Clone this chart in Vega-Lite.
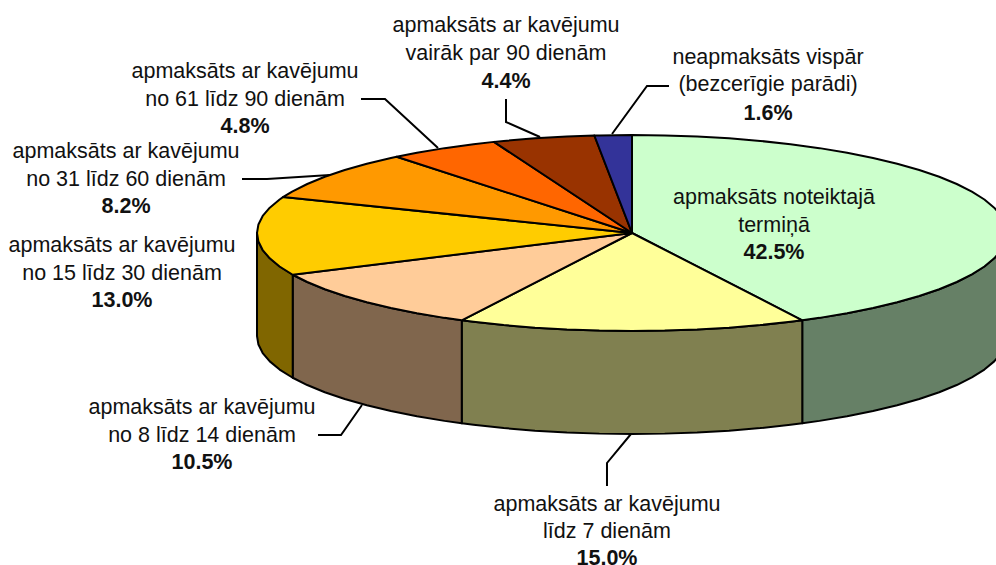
{
"$schema":"https://vega.github.io/schema/vega-lite/v6.json",
"width":996,"height":565,"padding":0,"autosize":{"type":"none"},"background":"white",
"config":{"view":{"stroke":null}},
"projection":{"type":"identity","scale":375,"translate":[632,233],"reflectY":true},
"datasets":{
"walls":[
{"type":"Feature","properties":{"name":"apmaksāts noteiktajā termiņā","share":42.5},"geometry":{"type":"Polygon","coordinates":[[[1,0],[0.9962,-0.0228],[0.9848,-0.0454],[0.9659,-0.0676],[0.9397,-0.0894],[0.9063,-0.1104],[0.866,-0.1307],[0.8192,-0.1499],[0.766,-0.168],[0.7071,-0.1848],[0.6428,-0.2002],[0.5736,-0.2141],[0.5,-0.2263],[0.454,-0.2328],[0.454,-0.5075],[0.5,-0.501],[0.5736,-0.4888],[0.6428,-0.4749],[0.7071,-0.4595],[0.766,-0.4427],[0.8192,-0.4246],[0.866,-0.4054],[0.9063,-0.3851],[0.9397,-0.3641],[0.9659,-0.3423],[0.9848,-0.3201],[0.9962,-0.2975],[1,-0.2747],[1,0]]]}},
{"type":"Feature","properties":{"name":"līdz 7 dienām","share":15.0},"geometry":{"type":"Polygon","coordinates":[[[0.454,-0.2328],[0.4226,-0.2368],[0.342,-0.2455],[0.2588,-0.2524],[0.1736,-0.2573],[0.0872,-0.2603],[0,-0.2613],[-0.0872,-0.2603],[-0.1736,-0.2573],[-0.2588,-0.2524],[-0.342,-0.2455],[-0.4226,-0.2368],[-0.454,-0.2328],[-0.454,-0.5075],[-0.4226,-0.5115],[-0.342,-0.5202],[-0.2588,-0.5271],[-0.1736,-0.532],[-0.0872,-0.535],[0,-0.536],[0.0872,-0.535],[0.1736,-0.532],[0.2588,-0.5271],[0.342,-0.5202],[0.4226,-0.5115],[0.454,-0.5075],[0.454,-0.2328]]]}},
{"type":"Feature","properties":{"name":"no 8 līdz 14 dienām","share":10.5},"geometry":{"type":"Polygon","coordinates":[[[-0.454,-0.2328],[-0.5,-0.2263],[-0.5736,-0.2141],[-0.6428,-0.2002],[-0.7071,-0.1848],[-0.766,-0.168],[-0.8192,-0.1499],[-0.866,-0.1307],[-0.9048,-0.1113],[-0.9048,-0.386],[-0.866,-0.4054],[-0.8192,-0.4246],[-0.766,-0.4427],[-0.7071,-0.4595],[-0.6428,-0.4749],[-0.5736,-0.4888],[-0.5,-0.501],[-0.454,-0.5075],[-0.454,-0.2328]]]}},
{"type":"Feature","properties":{"name":"no 15 līdz 30 dienām","share":13.0},"geometry":{"type":"Polygon","coordinates":[[[-0.9048,-0.1113],[-0.9397,-0.0894],[-0.9659,-0.0676],[-0.9848,-0.0454],[-0.9962,-0.0228],[-1,0],[-1,-0.2747],[-0.9962,-0.2975],[-0.9848,-0.3201],[-0.9659,-0.3423],[-0.9397,-0.3641],[-0.9048,-0.386],[-0.9048,-0.1113]]]}}
],
"tops":[
{"type":"Feature","properties":{"name":"apmaksāts noteiktajā termiņā","share":42.5},"geometry":{"type":"Polygon","coordinates":[[[0,0],[0,0.2613],[0.0872,0.2603],[0.1736,0.2573],[0.2588,0.2524],[0.342,0.2455],[0.4226,0.2368],[0.5,0.2263],[0.5736,0.2141],[0.6428,0.2002],[0.7071,0.1848],[0.766,0.168],[0.8192,0.1499],[0.866,0.1307],[0.9063,0.1104],[0.9397,0.0894],[0.9659,0.0676],[0.9848,0.0454],[0.9962,0.0228],[1,0],[0.9962,-0.0228],[0.9848,-0.0454],[0.9659,-0.0676],[0.9397,-0.0894],[0.9063,-0.1104],[0.866,-0.1307],[0.8192,-0.1499],[0.766,-0.168],[0.7071,-0.1848],[0.6428,-0.2002],[0.5736,-0.2141],[0.5,-0.2263],[0.454,-0.2328],[0,0]]]}},
{"type":"Feature","properties":{"name":"līdz 7 dienām","share":15.0},"geometry":{"type":"Polygon","coordinates":[[[0,0],[0.454,-0.2328],[0.4226,-0.2368],[0.342,-0.2455],[0.2588,-0.2524],[0.1736,-0.2573],[0.0872,-0.2603],[0,-0.2613],[-0.0872,-0.2603],[-0.1736,-0.2573],[-0.2588,-0.2524],[-0.342,-0.2455],[-0.4226,-0.2368],[-0.454,-0.2328],[0,0]]]}},
{"type":"Feature","properties":{"name":"no 8 līdz 14 dienām","share":10.5},"geometry":{"type":"Polygon","coordinates":[[[0,0],[-0.454,-0.2328],[-0.5,-0.2263],[-0.5736,-0.2141],[-0.6428,-0.2002],[-0.7071,-0.1848],[-0.766,-0.168],[-0.8192,-0.1499],[-0.866,-0.1307],[-0.9048,-0.1113],[0,0]]]}},
{"type":"Feature","properties":{"name":"no 15 līdz 30 dienām","share":13.0},"geometry":{"type":"Polygon","coordinates":[[[0,0],[-0.9048,-0.1113],[-0.9397,-0.0894],[-0.9659,-0.0676],[-0.9848,-0.0454],[-0.9962,-0.0228],[-1,0],[-0.9962,0.0228],[-0.9848,0.0454],[-0.9659,0.0676],[-0.9397,0.0894],[-0.9298,0.0962],[0,0]]]}},
{"type":"Feature","properties":{"name":"no 31 līdz 60 dienām","share":8.2},"geometry":{"type":"Polygon","coordinates":[[[0,0],[-0.9298,0.0962],[-0.9063,0.1104],[-0.866,0.1307],[-0.8192,0.1499],[-0.766,0.168],[-0.7071,0.1848],[-0.6428,0.2002],[-0.6276,0.2034],[0,0]]]}},
{"type":"Feature","properties":{"name":"no 61 līdz 90 dienām","share":4.8},"geometry":{"type":"Polygon","coordinates":[[[0,0],[-0.6276,0.2034],[-0.5736,0.2141],[-0.5,0.2263],[-0.4226,0.2368],[-0.3681,0.243],[0,0]]]}},
{"type":"Feature","properties":{"name":"vairāk par 90 dienām","share":4.4},"geometry":{"type":"Polygon","coordinates":[[[0,0],[-0.3681,0.243],[-0.342,0.2455],[-0.2588,0.2524],[-0.1736,0.2573],[-0.1004,0.26],[0,0]]]}},
{"type":"Feature","properties":{"name":"neapmaksāts vispār","share":1.6},"geometry":{"type":"Polygon","coordinates":[[[0,0],[-0.1004,0.26],[-0.0872,0.2603],[0,0.2613],[0,0]]]}}
],
"leaders":[
{"type":"Feature","properties":{"name":"no 61 līdz 90 dienām"},"geometry":{"type":"LineString","coordinates":[[-0.7227,0.3573],[-0.6587,0.3573],[-0.5173,0.2267]]}},
{"type":"Feature","properties":{"name":"no 31 līdz 60 dienām"},"geometry":{"type":"LineString","coordinates":[[-1.04,0.144],[-0.9733,0.144],[-0.8053,0.1547]]}},
{"type":"Feature","properties":{"name":"no 8 līdz 14 dienām"},"geometry":{"type":"LineString","coordinates":[[-0.8373,-0.5387],[-0.776,-0.5387],[-0.72,-0.4587]]}},
{"type":"Feature","properties":{"name":"līdz 7 dienām"},"geometry":{"type":"LineString","coordinates":[[-0.0667,-0.6747],[-0.0667,-0.6133],[-0.0027,-0.536]]}},
{"type":"Feature","properties":{"name":"vairāk par 90 dienām"},"geometry":{"type":"LineString","coordinates":[[-0.336,0.3573],[-0.336,0.296],[-0.2453,0.256]]}},
{"type":"Feature","properties":{"name":"neapmaksāts vispār"},"geometry":{"type":"LineString","coordinates":[[0.0987,0.392],[0.04,0.392],[-0.0533,0.264]]}}
],
"labels":[
{"label":"apmaksāts noteiktajā\ntermiņā","pct":"42.5%","lon":0.3787,"lat":0.0773,"pctLat":-0.0693},
{"label":"neapmaksāts vispār\n(bezcerīgie parādi)","pct":"1.6%","lon":0.3627,"lat":0.4507,"pctLat":0.3013},
{"label":"apmaksāts ar kavējumu\nvairāk par 90 dienām","pct":"4.4%","lon":-0.336,"lat":0.536,"pctLat":0.3867},
{"label":"apmaksāts ar kavējumu\nno 61 līdz 90 dienām","pct":"4.8%","lon":-1.032,"lat":0.4133,"pctLat":0.2667},
{"label":"apmaksāts ar kavējumu\nno 31 līdz 60 dienām","pct":"8.2%","lon":-1.3493,"lat":0.2,"pctLat":0.0533},
{"label":"apmaksāts ar kavējumu\nno 15 līdz 30 dienām","pct":"13.0%","lon":-1.36,"lat":-0.0507,"pctLat":-0.1973},
{"label":"apmaksāts ar kavējumu\nno 8 līdz 14 dienām","pct":"10.5%","lon":-1.1467,"lat":-0.4827,"pctLat":-0.6293},
{"label":"apmaksāts ar kavējumu\nlīdz 7 dienām","pct":"15.0%","lon":-0.0667,"lat":-0.7413,"pctLat":-0.8853}
]
},
"resolve":{"scale":{"color":"independent"}},
"layer":[
{"data":{"name":"walls"},
 "mark":{"type":"geoshape","stroke":"black","strokeWidth":2,"strokeJoin":"round"},
 "encoding":{"color":{"field":"properties.name","type":"nominal","legend":null,
  "scale":{"domain":["apmaksāts noteiktajā termiņā","līdz 7 dienām","no 8 līdz 14 dienām","no 15 līdz 30 dienām"],
  "range":["#668066","#808050","#80664D","#806600"]}}}},
{"data":{"name":"tops"},
 "mark":{"type":"geoshape","stroke":"black","strokeWidth":2,"strokeJoin":"round"},
 "encoding":{"color":{"field":"properties.name","type":"nominal","legend":null,
  "scale":{"domain":["apmaksāts noteiktajā termiņā","līdz 7 dienām","no 8 līdz 14 dienām","no 15 līdz 30 dienām","no 31 līdz 60 dienām","no 61 līdz 90 dienām","vairāk par 90 dienām","neapmaksāts vispār"],
  "range":["#CCFFCC","#FFFF99","#FFCC99","#FFCC00","#FF9900","#FF6600","#993300","#333399"]}}}},
{"data":{"name":"leaders"},
 "mark":{"type":"geoshape","filled":false,"stroke":"black","strokeWidth":2}},
{"data":{"name":"labels"},
 "mark":{"type":"text","font":"Liberation Sans","fontSize":21.5,"align":"center","baseline":"alphabetic","lineBreak":"\n","lineHeight":27.5,"color":"#111111"},
 "encoding":{"longitude":{"field":"lon","type":"quantitative"},"latitude":{"field":"lat","type":"quantitative"},"text":{"field":"label"}}},
{"data":{"name":"labels"},
 "mark":{"type":"text","font":"Liberation Sans","fontSize":21.5,"fontWeight":"bold","align":"center","baseline":"alphabetic","color":"#111111"},
 "encoding":{"longitude":{"field":"lon","type":"quantitative"},"latitude":{"field":"pctLat","type":"quantitative"},"text":{"field":"pct"}}}
]
}
